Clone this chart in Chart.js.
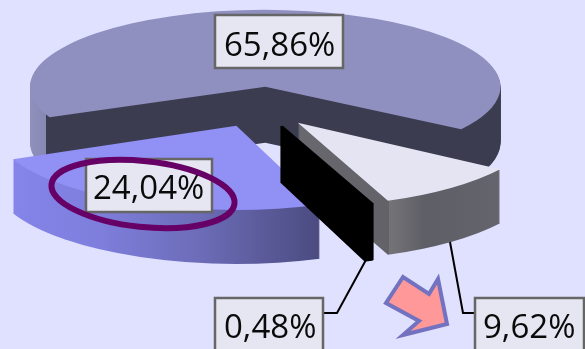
<!DOCTYPE html>
<html>
<head>
<meta charset="utf-8">
<title>Pie</title>
<script src="https://cdn.jsdelivr.net/npm/chart.js@4"></script>
<style>
  html, body { margin: 0; padding: 0; background: #e0e0ff; overflow: hidden; }
  canvas { display: block; }
</style>
</head>
<body>
<canvas id="pie" width="585" height="349"></canvas>
<script>
const sliceValues = [65.86, 9.62, 0.48, 24.04];
const sliceNames = ["A", "B", "C", "D"];

// fake 3D look, one entry per slice
const topColors = ["#9090c0", "#e4e4f3", "#000000", "#9090f5"];
const tilt = [0.32, 0.35, 0.35, 0.35];
const widthScale = [0.98, 1.012, 1.025, 1.015];
const depth = [56, 54, 56, 54];
const wallStops = [
  [[30, "#9090bc"], [45.5, "#8888b4"], [46, "#3c3c50"], [500, "#3c3c50"]],
  [[298, "#68686e"], [388.5, "#626268"], [389, "#747478"], [425, "#5e5e66"], [500, "#64646c"]],
  [[280, "#000000"], [380, "#000000"]],
  [[13, "#8484ea"], [100, "#7e7edc"], [200, "#6c6cb8"], [320, "#4b4b80"]]
];

const centerX = 260, centerY = 107, explode = 60, explodeTilt = 0.34;

// label boxes: x, y, w, h, text x, baseline
const labelBoxes = [
  [215, 15, 128, 53, 224, 56],
  [475, 298, 109, 70, 483, 338],
  [215, 298, 108, 70, 224, 338],
  [86, 159, 126, 53, 93, 199]
];

function pct(v) {
  return v.toFixed(2).replace(".", ",") + "%";
}

function drawSlice(ctx, arc, i) {
  const mid = (arc.startAngle + arc.endAngle) / 2;
  const vx = centerX + Math.cos(mid) * explode;
  const vy = centerY + Math.sin(mid) * explode * explodeTilt;
  const sx = widthScale[i], k = tilt[i];
  const base = arc.options;

  ctx.save();
  ctx.translate(vx, vy);
  ctx.scale(sx, k);
  ctx.translate(-arc.x, -arc.y);

  // wall = same arc stamped again and again going down
  const toUser = (x) => (x - vx) / sx + arc.x;
  const stops = wallStops[i];
  const first = stops[0][0], last = stops[stops.length - 1][0];
  const g = ctx.createLinearGradient(toUser(first), 0, toUser(last), 0);
  stops.forEach((s) => g.addColorStop((s[0] - first) / (last - first), s[1]));
  arc.options = { ...base, backgroundColor: g, borderColor: g };
  for (let d = depth[i]; d > 0; d--) {
    ctx.save();
    ctx.translate(0, d / k);
    arc.draw(ctx);
    ctx.restore();
  }
  arc.options = base;
  arc.draw(ctx);
  ctx.restore();
}

const piePlugin = {
  id: "pie3d",
  beforeDatasetsDraw(chart) {
    const ctx = chart.ctx;
    const arcs = chart.getDatasetMeta(0).data;
    [0, 1, 3, 2].forEach((i) => drawSlice(ctx, arcs[i], i));

    // leader lines
    ctx.strokeStyle = "#000";
    ctx.lineWidth = 2;
    ctx.beginPath();
    ctx.moveTo(367, 258); ctx.lineTo(337, 313); ctx.lineTo(324, 313);
    ctx.moveTo(450, 242); ctx.lineTo(463, 313); ctx.lineTo(474, 313);
    ctx.stroke();

    // value labels
    ctx.font = "33px 'Open Sans'";
    ctx.textAlign = "left";
    ctx.textBaseline = "alphabetic";
    labelBoxes.forEach((b, i) => {
      ctx.fillStyle = "#e6e6f2";
      ctx.strokeStyle = "#666666";
      ctx.lineWidth = 2.5;
      ctx.fillRect(b[0], b[1], b[2], b[3]);
      ctx.strokeRect(b[0], b[1], b[2], b[3]);
      ctx.fillStyle = "#0a0a0a";
      ctx.fillText(pct(sliceValues[i]), b[4], b[5]);
    });

    // purple ring
    ctx.strokeStyle = "#660066";
    ctx.lineWidth = 6;
    ctx.beginPath();
    ctx.ellipse(143, 194, 92, 33, 6 * Math.PI / 180, 0, Math.PI * 2);
    ctx.stroke();

    // arrow
    ctx.fillStyle = "#ff9999";
    ctx.strokeStyle = "#7272c0";
    ctx.lineWidth = 4;
    ctx.lineJoin = "miter";
    ctx.beginPath();
    ctx.moveTo(403, 277);
    ctx.lineTo(386, 303);
    ctx.lineTo(419, 321);
    ctx.lineTo(403, 335);
    ctx.lineTo(447, 324);
    ctx.lineTo(438, 279);
    ctx.lineTo(429, 294);
    ctx.closePath();
    ctx.fill();
    ctx.stroke();
    return false;
  }
};

new Chart(document.getElementById("pie").getContext("2d"), {
  type: "pie",
  data: {
    labels: sliceNames,
    datasets: [{
      data: sliceValues,
      backgroundColor: topColors,
      borderColor: topColors,
      borderWidth: [0, 0, 3, 0]
    }]
  },
  options: {
    responsive: false,
    animation: false,
    radius: 240,
    rotation: 246.5,
    plugins: { legend: { display: false }, tooltip: { enabled: false } }
  },
  plugins: [piePlugin]
});
</script>
</body>
</html>
